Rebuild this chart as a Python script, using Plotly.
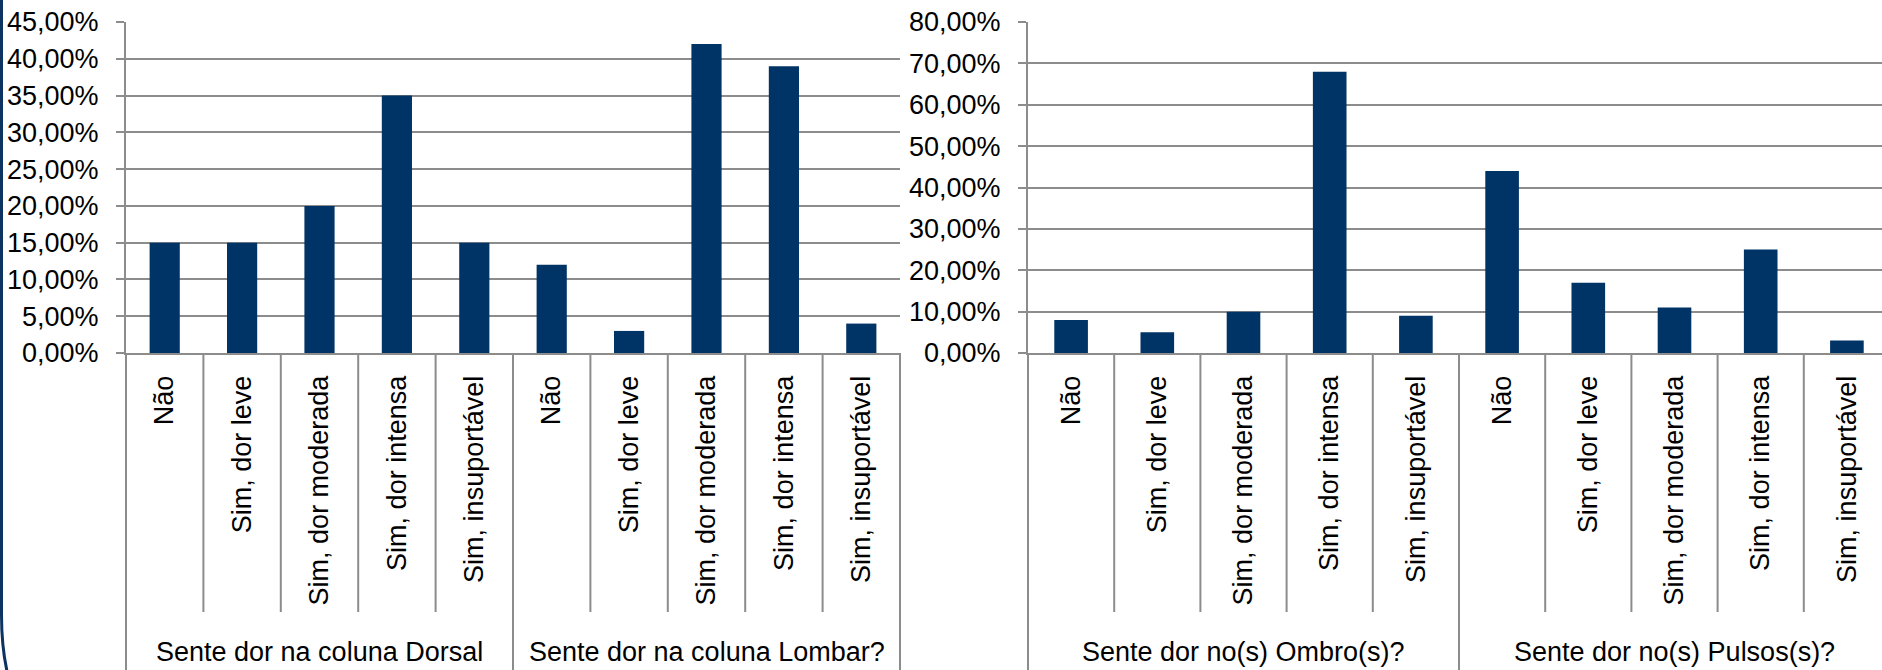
import plotly.graph_objects as go

# ---- data ----
levels = ["Não", "Sim, dor leve", "Sim, dor moderada", "Sim, dor intensa", "Sim, insuportável"]

left_groups = ["Sente dor na coluna Dorsal", "Sente dor na coluna Lombar?"]
dorsal = [15, 15, 20, 35, 15]
lombar = [12, 3, 42, 39, 4]

right_groups = ["Sente dor no(s) Ombro(s)?", "Sente dor no(s) Pulsos(s)?"]
ombro = [8, 5, 10, 68, 9]
pulsos = [44, 17, 11, 25, 3]

left_ticks = [0, 5, 10, 15, 20, 25, 30, 35, 40, 45]
right_ticks = [0, 10, 20, 30, 40, 50, 60, 70, 80]

# ---- style ----
W, H = 1882, 670
BAR = "#003366"
GRID = "#8c8c8c"
FONT = "Liberation Sans, Arial, sans-serif"
FS = 27

def px_x(p):
    return p / W

def px_y(p):
    return (H - p) / H

def pct_label(t):
    return f"{t:.2f}".replace(".", ",") + "%"

y_top, y_zero, y_inner, y_group = 22, 353, 612, 652

fig = go.Figure()

panels = [
    ("x", "y", left_groups, [dorsal, lombar], (126, 900), left_ticks, 9.5),
    ("x2", "y2", right_groups, [ombro, pulsos], (1028, W), right_ticks, None),
]

layout_axes = {}
shapes = []
annotations = []

for idx, (xa, ya, groups, series, (xl, xr), yticks, xmax) in enumerate(panels):
    cats = [c for _ in groups for c in levels]
    vals = [v for s in series for v in s]
    xs = list(range(len(cats)))
    fig.add_trace(go.Bar(x=xs, y=vals, xaxis=xa, yaxis=ya, width=0.39,
                         marker=dict(color=BAR, line=dict(width=0)),
                         showlegend=False, hoverinfo="skip"))
    n = len(cats)
    if xmax is None:
        # the reference crops the right panel at the image edge
        unit = 86.2
        xmax = -0.5 + (xr - xl) / unit
    xname = "xaxis" if xa == "x" else "xaxis2"
    yname = "yaxis" if ya == "y" else "yaxis2"
    layout_axes[xname] = dict(
        domain=[px_x(xl), px_x(xr)], anchor=ya, range=[-0.5, xmax],
        tickmode="array", tickvals=xs, ticktext=cats, tickangle=-90,
        ticks="outside", ticklen=10, tickcolor="rgba(0,0,0,0)",
        tickfont=dict(family=FONT, size=FS, color="black"),
        showgrid=False, zeroline=False, showline=True, linecolor=GRID, linewidth=2,
        fixedrange=True, automargin=False,
    )
    layout_axes[yname] = dict(
        domain=[px_y(y_zero), px_y(y_top)], anchor=xa, range=[0, yticks[-1]],
        tickmode="array", tickvals=yticks, ticktext=[pct_label(t) for t in yticks],
        ticks="outside", ticklen=8, tickcolor=GRID, tickwidth=2,
        ticklabelstandoff=12,
        tickfont=dict(family=FONT, size=FS, color="black"),
        showgrid=True, gridcolor=GRID, gridwidth=2,
        zeroline=False, showline=True, linecolor=GRID, linewidth=2,
        fixedrange=True, automargin=False,
    )
    # y-axis line extension into the category area
    shapes.append(dict(type="line", xref=f"{xa} domain", yref="paper",
                       x0=0, x1=0, y0=0, y1=px_y(y_zero),
                       line=dict(color=GRID, width=2)))
    # category dividers
    for i in range(n - 1):
        xb = i + 0.5
        is_group = (i + 1) % len(levels) == 0
        shapes.append(dict(type="line", xref=xa, yref="paper",
                           x0=xb, x1=xb, y0=0 if is_group else px_y(y_inner),
                           y1=px_y(y_zero), line=dict(color=GRID, width=2)))
    if idx == 0:
        shapes.append(dict(type="line", xref=f"{xa} domain", yref="paper",
                           x0=1, x1=1, y0=0, y1=px_y(y_zero),
                           line=dict(color=GRID, width=2)))
    # group labels
    for g, name in enumerate(groups):
        center = (g * len(levels) + (g + 1) * len(levels) - 1) / 2
        annotations.append(dict(text=name, xref=xa, yref="paper", x=center,
                                y=px_y(y_group), xanchor="center", yanchor="middle",
                                showarrow=False,
                                font=dict(family=FONT, size=FS, color="black")))

# slide frame on the left edge (decorative)
shapes.append(dict(type="path", xref="paper", yref="paper",
                   path=(f"M {px_x(1.5)},{px_y(-5)} L {px_x(1.5)},{px_y(615)} "
                         f"Q {px_x(1.5)},{px_y(788)} {px_x(174)},{px_y(788)}"),
                   line=dict(color="#0d3461", width=3)))

fig.update_layout(
    width=W, height=H,
    margin=dict(l=0, r=0, t=0, b=0, autoexpand=False),
    paper_bgcolor="white", plot_bgcolor="white",
    separators=",.",
    bargap=0.61,
    shapes=shapes, annotations=annotations,
    **layout_axes,
)

fig.write_html("out.html", config={"displayModeBar": False},
               post_script="document.body.style.margin='0';document.body.style.overflow='hidden';")
